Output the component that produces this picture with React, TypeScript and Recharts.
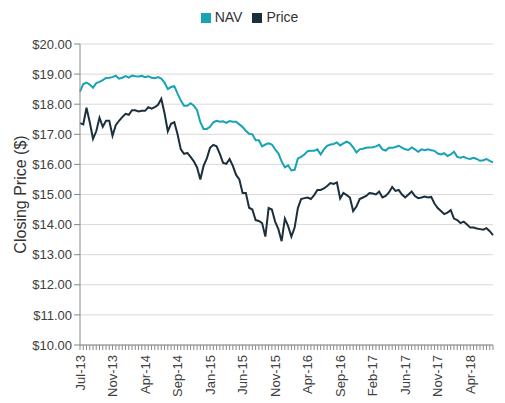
import { LineChart, Line, XAxis, YAxis, CartesianGrid, Legend } from 'recharts'

// labels shown every 10th point along the x axis
const tickLabels = [
  'Jul-13', 'Nov-13', 'Apr-14', 'Sep-14', 'Jan-15', 'Jun-15', 'Nov-15',
  'Apr-16', 'Sep-16', 'Feb-17', 'Jun-17', 'Nov-17', 'Apr-18',
]
const LABEL_EVERY = 10

const navValues = [
  18.42, 18.67, 18.72, 18.65, 18.55, 18.7, 18.74, 18.8, 18.87, 18.88,
  18.9, 18.95, 18.85, 18.88, 18.93, 18.88, 18.95, 18.93, 18.92, 18.94,
  18.9, 18.93, 18.88, 18.86, 18.9, 18.85, 18.72, 18.5, 18.57, 18.6,
  18.35, 18.12, 17.95, 17.95, 18.03, 17.95, 17.8, 17.4, 17.18, 17.18,
  17.25, 17.4, 17.45, 17.42, 17.43, 17.38, 17.44, 17.42, 17.42, 17.33,
  17.24, 17.12, 17.02, 17.0, 16.8, 16.8, 16.6, 16.66, 16.7, 16.66,
  16.5, 16.37, 16.1, 15.9, 15.97, 15.8, 15.82, 16.2, 16.25, 16.33,
  16.44, 16.45, 16.45, 16.5, 16.33, 16.5, 16.62, 16.66, 16.68, 16.73,
  16.63, 16.7, 16.76, 16.7, 16.57, 16.4, 16.5, 16.52, 16.55, 16.56,
  16.57, 16.6, 16.65, 16.5, 16.46, 16.55, 16.55, 16.58, 16.62, 16.56,
  16.5, 16.48, 16.56, 16.5, 16.42, 16.5, 16.47, 16.5, 16.47, 16.45,
  16.36, 16.33, 16.37, 16.28, 16.33, 16.42, 16.25, 16.22, 16.25, 16.2,
  16.18, 16.22, 16.18, 16.12, 16.14, 16.18, 16.12, 16.07,
]

const priceValues = [
  17.37, 17.33, 17.88, 17.4, 16.85, 17.1, 17.55, 17.25, 17.45, 17.45,
  16.95, 17.3, 17.45, 17.57, 17.68, 17.65, 17.8, 17.8, 17.76, 17.78,
  17.78, 17.9, 17.85, 17.9, 17.98, 18.18, 17.7, 17.1, 17.35, 17.4,
  17.0, 16.5, 16.35, 16.38, 16.25, 16.1, 15.9, 15.5, 15.95, 16.2,
  16.55, 16.65, 16.6, 16.35, 16.05, 16.02, 16.18, 15.95, 15.65, 15.5,
  15.05, 15.05, 14.56, 14.5, 14.15, 14.12, 14.05, 13.6, 14.55, 14.5,
  14.1, 13.85, 13.45, 14.2, 13.95, 13.6, 13.9, 14.55, 14.85, 14.88,
  14.9, 14.85, 14.98, 15.15, 15.15, 15.2, 15.28, 15.38, 15.35, 15.4,
  14.87, 15.05, 14.98, 14.9, 14.45, 14.6, 14.85, 14.9, 14.95, 15.05,
  15.03, 15.0, 15.1, 14.9, 14.95, 15.07, 15.25, 15.12, 15.15, 15.0,
  14.9, 15.0, 15.1, 14.95, 14.88, 14.9, 14.93, 14.9, 14.92, 14.7,
  14.55, 14.45, 14.35, 14.4, 14.48, 14.2, 14.15, 14.05, 14.1, 14.0,
  13.9, 13.9, 13.87, 13.85, 13.83, 13.88, 13.78, 13.65,
]

const yTicks = [10, 11, 12, 13, 14, 15, 16, 17, 18, 19, 20]

const NAV_COLOR = '#16a3b4'
const PRICE_COLOR = '#1b2f3c'
const FONT = '"Liberation Sans", Arial, sans-serif'

const chartData = navValues.map((nav, i) => ({ i, nav, price: priceValues[i] }))

function DateTick({ x, y, payload }: any) {
  const idx = payload.value as number
  if (idx % LABEL_EVERY !== 0) return null
  const label = tickLabels[idx / LABEL_EVERY]
  if (!label) return null
  const ty = y + 3
  return (
    <text
      x={x}
      y={ty}
      dy="0.35em"
      textAnchor="end"
      fontSize={13}
      fill="#404040"
      fontFamily={FONT}
      transform={`rotate(-90 ${x} ${ty})`}
    >
      {label}
    </text>
  )
}

export default function App() {
  return (
    <div style={{ position: 'absolute', left: 0, top: 0, width: 505, height: 403, background: '#fff' }}>
      <LineChart
        width={505}
        height={403}
        data={chartData}
        margin={{ top: 20, right: 12, bottom: 8, left: 0 }}
        style={{ fontFamily: FONT }}
      >
        <Legend
          verticalAlign="top"
          align="center"
          iconType="square"
          iconSize={10}
          height={24}
          wrapperStyle={{ top: 9, left: 8, fontSize: 14 }}
          formatter={(value) => <span style={{ color: '#333' }}>{value}</span>}
        />
        <CartesianGrid vertical={false} stroke="#d9d9d9" />
        <XAxis
          dataKey="i"
          type="category"
          interval={0}
          tick={<DateTick />}
          tickSize={5}
          height={50}
          axisLine={{ stroke: '#888' }}
          tickLine={{ stroke: '#888' }}
        />
        <YAxis
          domain={[10, 20]}
          ticks={yTicks}
          width={80}
          tickSize={6}
          tickFormatter={(v) => `$${Number(v).toFixed(2)}`}
          tick={{ fontSize: 13, fill: '#404040', fontFamily: FONT }}
          axisLine={{ stroke: '#888' }}
          tickLine={{ stroke: '#888' }}
          label={{
            value: 'Closing Price ($)',
            angle: -90,
            position: 'insideLeft',
            offset: 20,
            style: { textAnchor: 'middle', fontSize: 16, fill: '#333', fontFamily: FONT },
          }}
        />
        <Line
          name="NAV"
          type="linear"
          dataKey="nav"
          stroke={NAV_COLOR}
          strokeWidth={2}
          dot={false}
          isAnimationActive={false}
        />
        <Line
          name="Price"
          type="linear"
          dataKey="price"
          stroke={PRICE_COLOR}
          strokeWidth={2}
          dot={false}
          isAnimationActive={false}
        />
      </LineChart>
    </div>
  )
}
